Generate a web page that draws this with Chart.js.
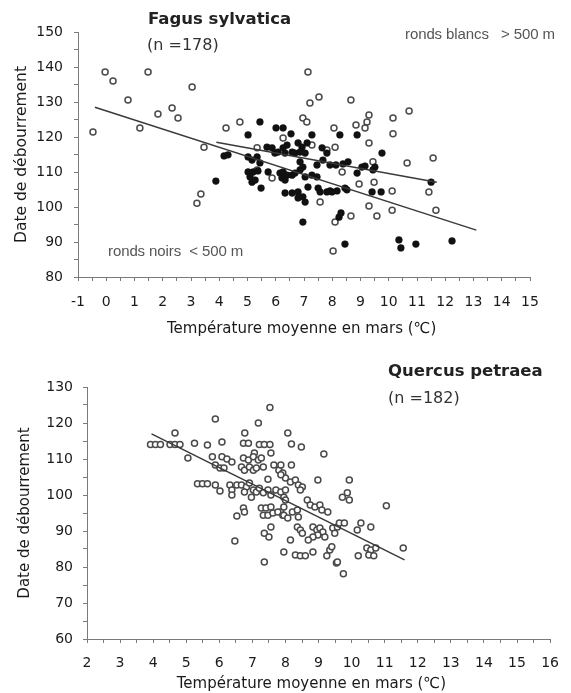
<!DOCTYPE html>
<html><head><meta charset="utf-8">
<script src="https://cdn.jsdelivr.net/npm/chart.js@4/dist/chart.umd.min.js"></script>
<style>
html,body{margin:0;padding:0;background:#fff;}
#wrap{position:relative;width:571px;height:693px;overflow:hidden;background:#fff;}
.c{position:absolute;left:0;}
.t{position:absolute;white-space:pre;color:#222;font-family:"DejaVu Sans";line-height:1;}
.s{position:absolute;white-space:pre;color:#555;font-family:"Liberation Sans";line-height:1;font-size:15px;letter-spacing:-0.1px;}
</style></head><body>
<div id="wrap">
<div class="c" style="top:0;width:571px;height:345px"><canvas id="c1" width="571" height="345"></canvas></div>
<div class="c" style="top:345px;width:571px;height:348px"><canvas id="c2" width="571" height="348"></canvas></div>
<div class="t" style="left:148px;top:11px;font-size:16.5px;font-weight:bold;">Fagus sylvatica</div>
<div class="t" style="left:147px;top:37px;font-size:16px;color:#333;">(n =178)</div>
<div class="s" style="left:405px;top:26px;">ronds blancs   &gt; 500 m</div>
<div class="s" style="left:108px;top:243px;">ronds noirs  &lt; 500 m</div>
<div class="t" style="left:388px;top:363px;font-size:16.5px;font-weight:bold;">Quercus petraea</div>
<div class="t" style="left:388px;top:390px;font-size:16px;color:#333;">(n =182)</div>
</div>
<script>
// ---------- Fagus sylvatica ----------
const fagusHighX = [-0.47,-0.04,0.24,0.77,1.19,1.48,1.83,2.33,2.54,3.04,3.46,4.24,4.73,5.34,3.21,3.35,7.14,7.53,7.21,8.66,10.72,10.15,9.30,9.23,9.16,8.84,10.15,9.30,8.06,6.96,7.10,11.57,8.10,10.65,11.42,11.67,10.12,9.48,8.95,9.30,9.58,10.12,8.66,8.10,8.03,8.35,9.44,6.26,5.34,5.87,7.28,7.57,7.81];
const fagusHighY = [121.4,138.6,136,130.6,122.6,138.6,126.6,128.3,125.4,134.3,117.1,122.6,124.3,116.9,101.1,103.7,138.6,131.4,129.7,130.6,127.4,125.4,126.3,124.3,122.6,123.4,120.9,118.3,122.6,125.4,124.3,114,117.1,112.6,104.3,99.1,104.6,107.1,106.6,100.3,97.4,99.1,97.4,95.7,87.4,110,112.9,119.7,110.6,108.3,117.7,101.4,116.3];
const fagusLowX = [5.44,5.02,3.88,8.27,8.88,7.28,9.76,11.50,9.73,9.41,8.45,10.36,10.43,10.96,12.24,8.13,8.38,8.56,8.88,9.05,9.16,9.51,9.44,7.92,8.17,8.45,8.52,8.31,8.24,6.01,6.26,6.54,4.17,4.31,5.02,5.16,5.34,5.44,5.02,5.20,5.37,5.09,5.16,5.27,5.48,5.73,5.69,5.87,5.97,6.08,6.33,6.58,6.68,6.40,6.26,6.79,6.93,7.11,6.86,7.04,7.64,7.81,7.67,7.92,6.86,6.96,6.86,7.46,6.15,6.26,6.40,6.58,6.68,6.22,6.33,6.33,6.58,6.79,6.96,7.04,6.79,7.14,7.50,7.57,7.81,7.99,6.96,7.04,7.28,7.46];
const fagusLowY = [124.3,120.6,107.4,120.6,120.6,120.6,115.4,107.1,104.3,104.3,89.4,90.6,88.3,89.4,90.3,112,112.3,112.9,109.7,111.4,111.7,111.4,110.6,104.6,104.6,105.4,104.9,98.3,97.1,122.6,122.6,120.9,114.6,114.9,114.3,113.4,114.3,112.6,110,110,110.3,108.6,107.1,107.7,105.4,110,117.1,116.9,115.4,115.7,115.4,115.7,115.4,117.7,116.9,118.3,117.1,118.3,115.7,115.4,116.9,115.4,113.4,112,112.9,111.4,110.6,112,109.7,110,109.1,109.1,109.7,108.3,107.7,104,104,104.3,102.9,101.4,102.6,105.7,105.4,104.3,104.3,104.3,95.7,108.6,109.1,108.6];
const fagusFitAllX = [-0.4, 13.1];
const fagusFitAllY = [128.5, 93.4];
const fagusFitLowX = [3.9, 11.7];
const fagusFitLowY = [118.5, 107.1];
const fagusXTickLabels = [-1,0,1,2,3,4,5,6,7,8,9,10,11,12,13,14,15];
const fagusYTickLabels = [80,90,100,110,120,130,140,150];

// ---------- Quercus petraea ----------
const quercusX = [7.53,5.88,7.18,4.66,6.77,5.25,5.64,6.08,3.92,4.07,4.22,4.51,4.66,4.81,6.73,6.88,7.21,7.36,7.53,7.06,7.56,5.05,5.79,6.08,6.23,6.38,5.88,6.02,6.14,6.73,6.88,7.03,7.18,7.27,6.67,6.76,6.91,7.03,7.12,7.33,7.65,7.80,7.92,8.00,5.34,5.49,5.64,5.88,6.02,6.32,6.38,6.38,6.53,6.67,6.82,6.76,6.91,7.03,6.97,7.12,7.21,7.33,7.47,7.56,7.71,7.86,8.00,7.47,6.73,6.76,6.53,7.27,7.41,7.56,7.33,7.47,7.62,7.86,7.95,7.56,7.36,7.50,6.47,7.36,7.95,7.77,7.92,8.07,8.18,8.48,9.16,8.18,7.86,8.15,8.30,8.39,8.51,8.45,7.95,8.00,8.98,9.93,11.05,9.72,9.87,9.93,7.95,8.07,8.21,8.36,8.39,8.66,8.75,8.89,9.04,9.10,9.28,8.36,8.45,8.51,8.83,8.95,9.04,9.13,8.98,8.83,9.19,9.43,9.49,9.57,9.63,9.78,8.69,8.15,10.28,10.17,10.58,8.30,8.45,8.60,8.83,9.25,9.34,9.40,9.54,9.57,9.75,10.20,10.46,10.58,10.73,10.52,10.67,11.56,7.86];
const quercusY = [124.3,121.1,120,117.2,117.2,114.4,113.9,114.7,114,114,114,114,114,114,114.4,114.4,114,114,114,111.7,111.7,110.3,110.6,110.6,110,109.2,108.3,107.5,107.5,110.3,109.7,110.6,109.7,110.3,107.8,106.9,107.8,106.9,107.5,107.8,108.3,106.9,106.1,104.7,103.1,103.1,103.1,102.8,101.1,102.8,101.4,100,102.8,102.8,102.2,100.8,103.3,101.4,99.4,100.8,101.9,100.6,101.4,100,101.4,100.8,101.4,104.4,96.4,95.3,94.2,96.4,96.4,96.7,94.4,94.4,95,95.3,96.7,91.1,89.4,88.3,87.2,81.4,84.2,95.3,94.4,117.2,114.2,113.3,111.4,108.3,105.6,103.6,104.2,102.8,102.2,101.4,99.4,98.6,104.2,104.2,97,99.4,100.6,98.6,94.4,93.6,95.3,95.8,93.9,98.6,97.2,96.7,97.2,95.8,95.3,91.1,90.3,89.4,91.1,90.3,90.8,89.7,88.9,88.3,88.3,90.8,89.4,91.1,92.2,92.2,87.5,87.5,92.2,90.3,91.1,83.3,83.1,83.1,84.2,83.1,84.7,85.6,81.1,81.4,78.1,83.1,85.3,84.7,85.3,83.3,83.1,85.3,108.3];
const quercusFitX = [3.95, 11.6];
const quercusFitY = [117, 82];
const quercusXTickLabels = [2,3,4,5,6,7,8,9,10,11,12,13,14,15,16];
const quercusYTickLabels = [60,70,80,90,100,110,120,130];

const xTitleTop = 'Température moyenne en mars (℃) ';
const xTitleBottom = 'Température moyenne en mars (℃)   ';
const yTitle = 'Date de débourrement';

Chart.defaults.font.family = 'DejaVu Sans';
const AXIS = '#7a7a7a';
const TXT = '#1a1a1a';

function pts(xs, ys){ return xs.map((x,i)=>({x:x, y:ys[i]})); }
function near(list, v){ return list.some(l => Math.abs(l - v) < 1e-6); }

function xScale(min, max, labels, tickPad, title, titleSize, titlePadBottom, h){
  return {
    type:'linear', position:'bottom', min:min, max:max,
    border:{display:true, color:AXIS, width:1},
    grid:{display:true, drawOnChartArea:false, drawTicks:true, tickLength:4, tickColor:AXIS, color:AXIS},
    ticks:{stepSize:0.5, autoSkip:false, maxRotation:0, minRotation:0, padding:tickPad, color:TXT,
      font:{family:'DejaVu Sans', size:14},
      callback:(v)=> near(labels, v) ? String(Math.round(v)) : ''},
    title:{display:true, text:title, color:TXT, font:{family:'DejaVu Sans', size:titleSize},
      padding:{top:0, bottom:titlePadBottom}},
    afterFit:(s)=>{ s.height = h; }
  };
}
function yScale(min, max, labels, tickPad, titleSize, titlePadTop, w){
  return {
    type:'linear', position:'left', min:min, max:max,
    border:{display:true, color:AXIS, width:1},
    grid:{display:true, drawOnChartArea:false, drawTicks:true, tickLength:4, tickColor:AXIS, color:AXIS},
    ticks:{stepSize:5, autoSkip:false, padding:tickPad, color:TXT,
      font:{family:'DejaVu Sans', size:14},
      callback:(v)=> near(labels, v) ? String(Math.round(v)) : ''},
    title:{display:true, text:yTitle, color:TXT, font:{family:'DejaVu Sans', size:titleSize},
      padding:{top:titlePadTop, bottom:0}},
    afterFit:(s)=>{ s.width = w; }
  };
}
const common = {
  responsive:false, animation:false, events:[],
  plugins:{legend:{display:false}, tooltip:{enabled:false}, title:{display:false}}
};
const lineDs = (xs, ys)=>({data:pts(xs,ys), showLine:true, borderColor:'#3a3a3a', borderWidth:1.5, pointRadius:0, fill:false});
const openDs = (xs, ys)=>({data:pts(xs,ys), showLine:false, pointRadius:3, pointBorderWidth:1.5, pointBorderColor:'#4a4a4a', pointBackgroundColor:'#ffffff'});
const blackDs = (xs, ys)=>({data:pts(xs,ys), showLine:false, pointRadius:3.4, pointBorderWidth:0.5, pointBorderColor:'#111', pointBackgroundColor:'#111'});

new Chart(document.getElementById('c1'), {
  type:'scatter',
  data:{datasets:[
    lineDs(fagusFitAllX, fagusFitAllY),
    lineDs(fagusFitLowX, fagusFitLowY),
    blackDs(fagusLowX, fagusLowY),
    openDs(fagusHighX, fagusHighY)
  ]},
  options:Object.assign({}, common, {
    layout:{padding:{top:32, right:41, bottom:0, left:0}},
    scales:{
      x:xScale(-1, 15, fagusXTickLabels, 13, xTitleTop, 15, 7, 68),
      y:yScale(80, 150, fagusYTickLabels, 11, 15.5, 13, 78)
    }
  })
});

new Chart(document.getElementById('c2'), {
  type:'scatter',
  data:{datasets:[
    lineDs(quercusFitX, quercusFitY),
    openDs(quercusX, quercusY)
  ]},
  options:Object.assign({}, common, {
    layout:{padding:{top:42, right:11, bottom:0, left:0}},
    scales:{
      x:xScale(2, 16, quercusXTickLabels, 12, xTitleBottom, 15, 0, 54),
      y:yScale(60, 130, quercusYTickLabels, 10, 15, 16, 87)
    }
  })
});
</script>
</body></html>
